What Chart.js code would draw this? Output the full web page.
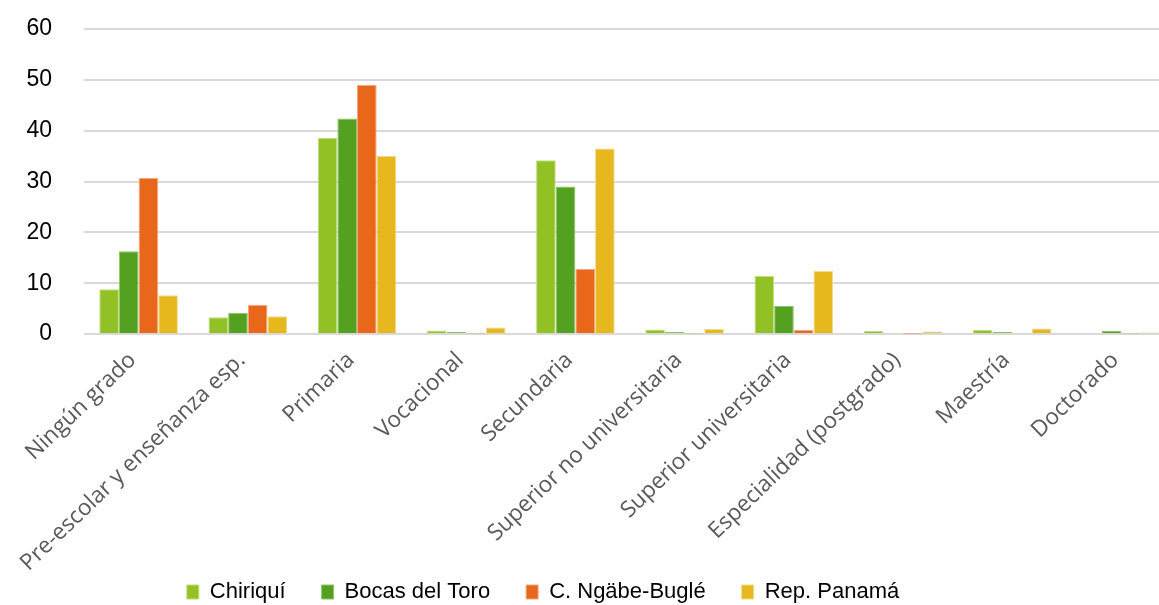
<!DOCTYPE html>
<html>
<head>
<meta charset="utf-8">
<script src="https://cdn.jsdelivr.net/npm/chart.js@4.4.0/dist/chart.umd.min.js"></script>
<style>
  html, body { margin: 0; padding: 0; background: #ffffff; overflow: hidden; }
  #wrap { position: absolute; left: 0; top: 0; width: 1180px; height: 652px; }
</style>
</head>
<body>
<div id="wrap"><canvas id="c"></canvas></div>
<script>
const categories = [
  "Ningún grado",
  "Pre-escolar y enseñanza esp.",
  "Primaria",
  "Vocacional",
  "Secundaria",
  "Superior no universitaria",
  "Superior universitaria",
  "Especialidad (postgrado)",
  "Maestría",
  "Doctorado"
];
const seriesNames = ["Chiriquí", "Bocas del Toro", "C. Ngäbe-Buglé", "Rep. Panamá"];
const chiriqui    = [8.8, 3.3, 38.6, 0.7, 34.2, 0.9, 11.4, 0.6, 0.8, 0.0];
const bocasToro   = [16.3, 4.2, 42.4, 0.4, 29.0, 0.4, 5.5, 0.2, 0.4, 0.6];
const ngabeBugle  = [30.7, 5.7, 49.0, 0.1, 12.8, 0.1, 0.8, 0.05, 0.0, 0.1];
const repPanama   = [7.6, 3.5, 35.0, 1.3, 36.5, 1.0, 12.4, 0.5, 1.1, 0.3];
const yTicks = [0, 10, 20, 30, 40, 50, 60];

const colors = ["#92c126", "#54a020", "#e8671a", "#e6b81e"];
const borders = ["#bfe07a", "#8cc766", "#f3a77a", "#f2da86"];
const values = [chiriqui, bocasToro, ngabeBugle, repPanama];

const shiftLegend = {
  id: 'shiftLegend',
  afterLayout(chart) {
    const l = chart.legend;
    if (l) { l.left -= 45; l.right -= 45; l.top -= 39; l.bottom -= 39; }
  }
};

new Chart(document.getElementById('c'), {
  type: 'bar',
  data: {
    labels: categories,
    datasets: seriesNames.map((n, i) => ({
      label: n,
      data: values[i],
      backgroundColor: colors[i],
      borderColor: borders[i],
      borderWidth: 1,
      categoryPercentage: 0.72,
      barPercentage: 1.0
    }))
  },
  options: {
    responsive: true,
    maintainAspectRatio: false,
    animation: false,
    devicePixelRatio: 1,
    layout: { padding: { top: 29, right: 4, left: 0, bottom: 0 } },
    plugins: {
      tooltip: { enabled: false },
      legend: {
        position: 'bottom',
        labels: {
          boxWidth: 12,
          boxHeight: 14,
          padding: 36,
          color: '#000000',
          font: { family: "'Liberation Sans', Arial, sans-serif", size: 22 }
        }
      }
    },
    scales: {
      x: {
        grid: { display: false, drawTicks: false },
        border: { display: false },
        ticks: {
          autoSkip: false,
          minRotation: 44,
          maxRotation: 44,
          padding: 13,
          labelOffset: -6,
          color: '#595959',
          font: { family: "'Open Sans', sans-serif", size: 22.5 }
        },
        afterFit(scale) { scale.height = 250; }
      },
      y: {
        min: 0,
        max: 60,
        afterBuildTicks(scale) { scale.ticks = yTicks.map(v => ({ value: v })); },
        grid: { color: '#d9d9d9', lineWidth: 2, drawTicks: false },
        border: { display: false },
        ticks: {
          padding: 32,
          color: '#000000',
          font: { family: "'Liberation Sans', Arial, sans-serif", size: 23 }
        },
        afterFit(scale) { scale.width = 84; scale.paddingTop = 14; scale.paddingBottom = 14; }
      }
    }
  },
  plugins: [shiftLegend]
});
</script>
</body>
</html>
